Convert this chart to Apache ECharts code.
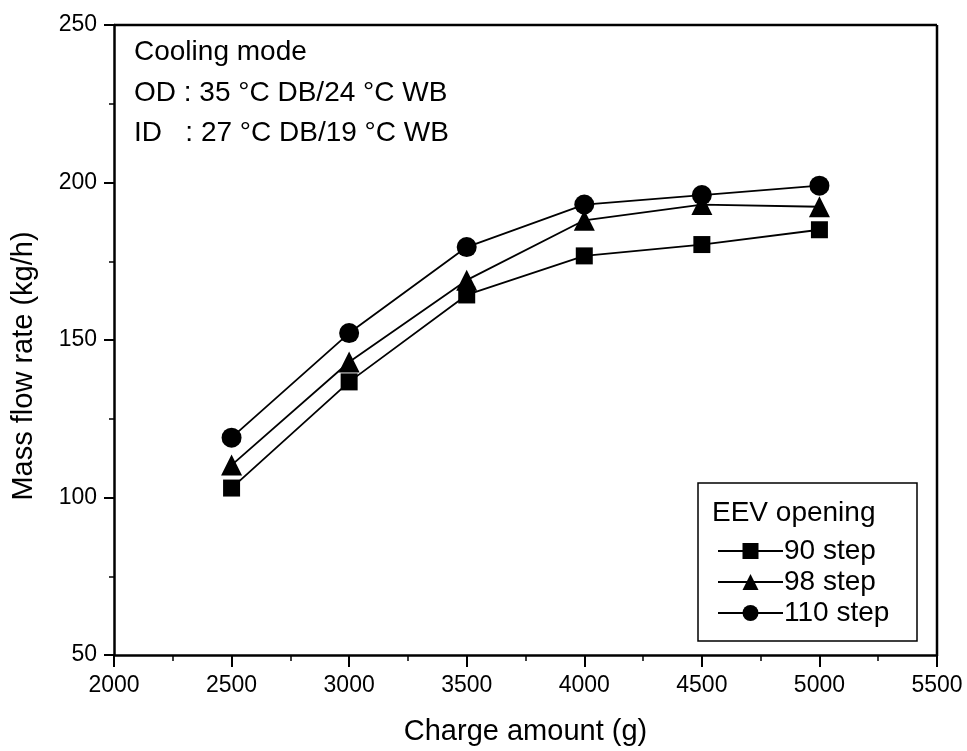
<!DOCTYPE html>
<html><head><meta charset="utf-8">
<script src="https://cdn.jsdelivr.net/npm/echarts@6/dist/echarts.min.js"></script>
<style>html,body{margin:0;padding:0;background:#fff}#c{width:967px;height:751px}</style>
</head><body><div id="c"></div>
<script>
const charge = [2500, 3000, 3500, 4000, 4500, 5000];
const step90 = [103, 136.7, 164.3, 176.7, 180.3, 185];
const step98 = [110.3, 143, 169, 188, 193, 192.3];
const step110 = [119, 152.2, 179.5, 193, 196, 199];
const seriesNames = ['90 step', '98 step', '110 step'];
const legendTitle = 'EEV opening';
const xTitle = 'Charge amount (g)';
const yTitle = 'Mass flow rate (kg/h)';
const annotation = ['Cooling mode', 'OD : 35 \u00B0C DB/24 \u00B0C WB', 'ID   : 27 \u00B0C DB/19 \u00B0C WB'];

const font = 'Liberation Sans, Arial, sans-serif';
const chart = echarts.init(document.getElementById('c'));
function pts(arr){ return charge.map((x,i)=>[x,arr[i]]); }
const symbols = ['rect','triangle','circle'];
const sizes = [17, 21, 20];
const datas = [step90, step98, step110];
const GL = 114, GR = 937, GT = 25, GB = 655;
chart.setOption({
  animation:false,
  backgroundColor:'#fff',
  grid:{left:GL,right:967-GR,top:GT,bottom:751-GB},
  xAxis:{type:'value',min:2000,max:5500,interval:500,
    name:xTitle,nameLocation:'middle',nameGap:62,
    nameTextStyle:{color:'#000',fontSize:29,fontFamily:font},
    axisLine:{show:true,lineStyle:{color:'#000',width:2.5}},
    axisTick:{show:true,length:12,lineStyle:{color:'#000',width:2}},
    minorTick:{show:true,splitNumber:2,length:6,lineStyle:{color:'#000',width:1.5}},
    axisLabel:{color:'#000',fontSize:23,fontFamily:font,margin:19,formatter:v=>String(v)},
    splitLine:{show:false}},
  yAxis:{type:'value',min:50,max:250,interval:50,
    axisLine:{show:true,lineStyle:{color:'#000',width:2.5}},
    axisTick:{show:true,length:10,lineStyle:{color:'#000',width:2}},
    minorTick:{show:true,splitNumber:2,length:5,lineStyle:{color:'#000',width:1.5}},
    axisLabel:{color:'#000',fontSize:23,fontFamily:font,margin:17,formatter:v=>String(v)},
    splitLine:{show:false}},
  legend:{show:true,orient:'vertical',left:712,top:532,itemWidth:65,itemHeight:20,itemGap:3,
    data:seriesNames,
    textStyle:{color:'#000',fontSize:28,fontFamily:font,padding:[0,0,0,-4]}},
  graphic:[
    {type:'rect',shape:{x:698,y:483,width:219,height:158},style:{fill:'none',stroke:'#000',lineWidth:1.5},z:1},
    {type:'text',style:{x:712,y:513,text:legendTitle,fill:'#000',font:'28px '+font,verticalAlign:'middle'}},
    {type:'line',shape:{x1:GR,y1:GT,x2:GR,y2:GB},style:{stroke:'#000',lineWidth:2.5}},
    {type:'line',shape:{x1:GL,y1:GT,x2:GR,y2:GT},style:{stroke:'#000',lineWidth:2.5}},
    {type:'text',x:24,y:366,rotation:Math.PI/2,style:{x:0,y:0,text:yTitle,fill:'#000',font:'29px '+font,align:'center',verticalAlign:'middle'}},
    {type:'text',style:{x:134,y:52,text:annotation[0],fill:'#000',font:'28px '+font,verticalAlign:'middle'}},
    {type:'text',style:{x:134,y:93,text:annotation[1],fill:'#000',font:'28px '+font,verticalAlign:'middle'}},
    {type:'text',style:{x:134,y:133,text:annotation[2],fill:'#000',font:'28px '+font,verticalAlign:'middle'}}
  ],
  series: datas.map((d,i)=>({
    name:seriesNames[i],type:'line',data:pts(d),
    symbol:symbols[i],symbolSize:sizes[i],
    itemStyle:{color:'#000'},
    lineStyle:{color:'#000',width:1.8}
  }))
});
</script></body></html>
